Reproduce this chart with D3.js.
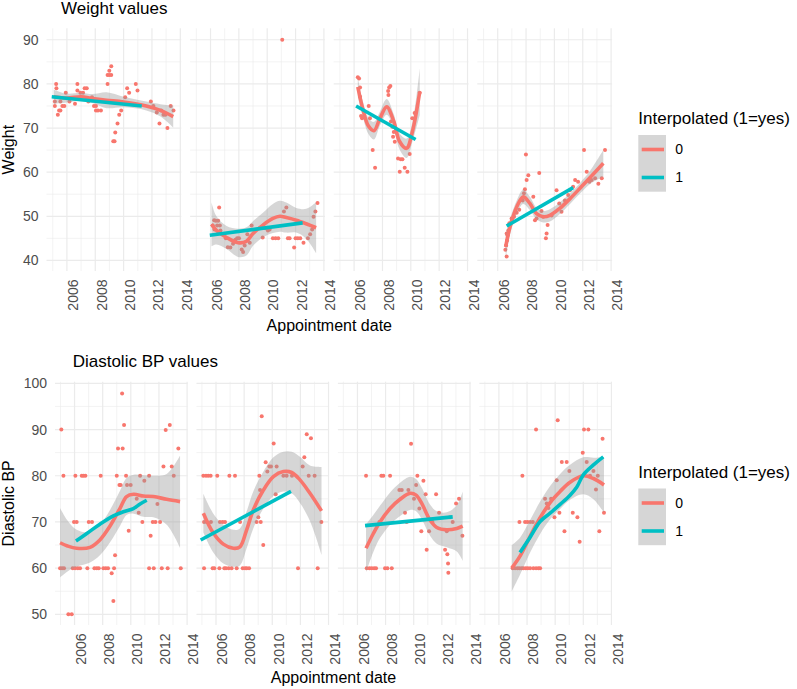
<!DOCTYPE html>
<html>
<head>
<meta charset="utf-8">
<script src="https://cdn.jsdelivr.net/npm/d3@7"></script>
<style>
  body { margin: 0; background: #fff; }
  text { font-family: "Liberation Sans", Arial, Helvetica, sans-serif; }
</style>
</head>
<body>
<svg width="797" height="689"></svg>
<script>
// ---- data ----
const xTicks = [2006, 2008, 2010, 2012, 2014];
const groups = ['0', '1'];

// Weight: points [year, weight] per panel
const wPts1 = [[2005.24,80],[2005.26,79],[2005.15,76],[2005.15,75],[2005.36,73],[2005.45,74],[2005.54,74],[2005.54,76],[2005.68,75],[2005.82,75],[2005.92,78],[2006.18,76],[2006.57,75.5],[2006.74,80],[2006.74,78.5],[2006.95,78],[2007.14,78],[2007.25,79],[2007.4,79],[2007.51,76],[2007.77,77],[2007.91,75],[2008.05,75],[2008.05,74],[2008.19,74],[2008.4,74],[2008.87,80],[2008.87,82],[2008.99,82],[2008.99,83],[2009.13,84],[2009.13,82],[2009.27,67],[2009.36,67],[2009.41,69],[2009.57,71],[2009.69,73],[2009.83,74],[2010.11,77],[2010.25,79],[2010.39,78],[2010.86,80],[2010.98,78.5],[2011.92,76],[2012.1,75],[2012.34,73.5],[2012.53,71],[2012.65,74],[2012.81,73],[2012.95,73],[2013.09,70],[2013.32,75],[2013.52,74]];
const wPts2 = [[2011.06,90],[2006.61,52],[2006.16,47.9],[2006.26,49.1],[2006.38,49],[2006.54,49],[2006.47,47.9],[2006.66,47.9],[2006.28,47],[2006.7,46.8],[2007.08,45],[2007.22,43],[2007.4,42.9],[2007.59,43.8],[2007.76,44.7],[2007.88,45],[2008.01,45],[2008.2,42.5],[2008.3,41.9],[2008.41,43.4],[2008.6,45.9],[2008.77,44],[2008.9,47.9],[2009.47,47.3],[2009.68,45.2],[2009.87,47.3],[2010.05,46.8],[2010.17,47],[2010.4,45],[2010.59,45],[2010.78,45],[2011.18,51.1],[2011.35,52],[2011.46,45],[2011.58,45],[2011.9,42.9],[2012.0,45],[2012.16,45],[2012.33,45],[2012.56,44],[2012.87,45],[2013.03,45.9],[2013.17,47],[2013.27,49.9],[2013.4,51.1],[2013.55,53]];
const wPts3 = [[2006.26,81.5],[2006.35,81.2],[2006.42,79.2],[2006.42,77.1],[2006.49,72.7],[2006.56,72.2],[2007.03,75],[2007.12,72.2],[2007.31,65],[2007.48,61],[2008.4,78.4],[2008.47,79.2],[2008.56,79.5],[2008.42,77.5],[2008.6,71.5],[2008.7,70.3],[2008.8,69.1],[2008.75,68],[2008.87,66.9],[2009.1,63.1],[2009.22,60.1],[2009.29,62.9],[2009.41,62.9],[2009.57,61],[2009.76,60.1],[2009.92,64.1],[2010.1,72.2],[2010.27,73.4],[2010.63,78]];
const wPts4 = [[2006.63,40.9],[2006.59,43.4],[2006.54,42.4],[2006.66,44.5],[2006.7,45.7],[2006.63,46.1],[2006.75,46.8],[2006.82,48.4],[2006.98,49.5],[2007.15,49.9],[2007.34,50.8],[2007.52,51.5],[2007.76,53.6],[2007.85,55.2],[2007.92,56.1],[2008.04,58.2],[2008.16,59.3],[2007.99,64],[2008.51,54.4],[2008.63,49.1],[2008.74,49.5],[2008.93,59.8],[2009.09,51.2],[2009.21,49.9],[2009.4,45],[2009.45,46.1],[2009.52,48],[2009.8,50.2],[2010.15,55.9],[2010.34,52.9],[2010.5,51],[2010.74,53.6],[2010.97,54.8],[2011.09,55.9],[2011.32,56.7],[2011.46,58.2],[2011.67,57.8],[2012.09,65],[2012.28,60.1],[2012.47,57.8],[2012.63,58.2],[2012.87,58.6],[2013.1,57.4],[2013.34,58.6],[2013.57,65]];

// Weight: smooth for group 0 [year, fit, half-width of band]
const wFit1 = [[2005.07,77.1,1.6],[2006,76.8,1.0],[2007,77.1,0.9],[2007.8,76.7,1.0],[2008.8,76.3,1.8],[2010,75.9,1.2],[2011.6,75.0,1.0],[2012.6,74.0,1.4],[2013.5,72.6,2.5]];
const wFit2 = [[2006.07,48.2,5.0],[2006.42,46.8,3.2],[2007.13,45.2,2.6],[2007.95,44.0,3.2],[2008.53,44.3,3.2],[2009.0,46.1,2.8],[2009.7,48.0,2.8],[2010.4,49.5,3.3],[2010.9,50.0,3.5],[2011.35,49.7,3.4],[2012.05,49.1,2.8],[2012.75,48.3,3.4],[2013.45,47.4,5.8]];
const wFit3 = [[2006.26,79.3,2.2],[2006.6,74.5,1.8],[2007.0,70.5,1.8],[2007.4,69.4,2.0],[2007.8,72.0,1.6],[2008.3,74.8,1.8],[2008.8,71.5,1.6],[2009.2,67.0,1.8],[2009.7,65.4,2.2],[2010.1,69.0,2.2],[2010.63,78.2,5.3]];
const wFit4 = [[2006.56,43.1,2.8],[2006.87,47.6,1.8],[2007.34,52.1,1.5],[2007.8,54.4,1.6],[2008.27,52.9,1.5],[2008.74,50.6,1.3],[2009.2,49.9,1.3],[2009.68,50.2,1.4],[2010.38,51.8,1.3],[2011.1,54.0,1.2],[2011.79,56.3,1.2],[2012.52,58.8,1.5],[2013.45,62.0,3.0]];
// Weight: fit for group 1 [year, fit]
const wLin1 = [[2004.93,77.1],[2011.28,75.0]];
const wLin2 = [[2005.95,45.7],[2012.5,48.5]];
const wLin3 = [[2006.14,75.0],[2010.34,67.4]];
const wLin4 = [[2006.63,47.8],[2011.32,56.5]];

// Diastolic BP: points [year, bp] per panel
const bpPts1 = [[2005.06,90],[2005.21,80],[2004.97,60],[2005.11,60],[2005.25,60],[2005.56,50],[2005.8,50],[2005.87,60],[2006.04,60],[2006.06,80],[2005.96,70],[2006.15,70],[2006.23,60],[2006.39,60],[2006.51,80],[2006.63,80],[2006.77,80],[2006.91,60],[2007.01,70],[2007.24,70],[2007.41,60],[2007.58,60],[2007.72,60],[2007.86,80],[2008.05,60],[2008.22,60],[2008.38,60],[2008.64,58.9],[2008.76,52.9],[2008.88,62.8],[2008.81,60],[2009.0,80],[2009.09,85.9],[2009.38,97.8],[2009.42,85.9],[2009.52,91],[2009.66,80],[2009.19,78],[2009.28,78],[2009.73,78],[2009.99,78],[2009.85,68.1],[2010.66,80],[2010.42,75],[2010.56,72],[2010.82,70],[2010.96,78.9],[2011.3,80],[2011.3,60],[2011.41,67],[2011.56,70],[2011.63,60],[2011.75,70],[2011.89,73.9],[2012.08,70],[2012.2,60],[2012.32,82],[2012.48,89.9],[2012.62,60],[2012.77,91],[2012.91,82],[2013.05,80],[2013.38,85.9],[2013.55,60]];
const bpPts2 = [[2005.1,80],[2005.29,80],[2005.45,80],[2005.62,80],[2006.09,80],[2006.95,80],[2007.35,80],[2005.15,70],[2005.34,70],[2005.64,70],[2006.28,70],[2006.47,70],[2006.64,70],[2007.71,70],[2005.15,60],[2005.76,60],[2005.88,60],[2006.24,60],[2006.59,60],[2006.71,60],[2006.9,60],[2007.11,60],[2007.47,60],[2007.9,60],[2008.06,60],[2008.18,60],[2008.35,60],[2008.89,70],[2009.01,71],[2009.18,70],[2009.08,80],[2009.13,76.9],[2009.25,92.9],[2009.36,65],[2009.53,82.9],[2009.65,80.9],[2009.79,82],[2009.91,82],[2010.1,87],[2010.24,76],[2010.31,82],[2010.79,80],[2011.02,80],[2011.4,80],[2011.83,60],[2012.16,82],[2012.28,84],[2012.45,89],[2012.59,80],[2012.75,88.1],[2013.01,80],[2013.23,60],[2013.49,70]];
const bpPts3 = [[2006.61,80],[2006.66,60],[2006.85,60],[2007.01,60],[2007.18,60],[2007.32,60],[2007.56,70],[2007.7,80],[2007.84,80],[2007.96,60],[2008.13,60],[2008.32,80],[2008.44,60],[2008.98,76.9],[2009.15,76.9],[2009.38,72],[2009.5,70],[2009.62,76.9],[2009.81,86.9],[2010.02,75],[2010.17,78],[2010.26,80],[2010.4,72.9],[2010.54,68],[2010.69,78.9],[2010.85,76],[2010.92,64],[2011.09,68],[2011.33,70],[2011.59,76],[2011.8,72],[2012.23,64],[2012.35,68],[2012.39,63],[2012.44,61],[2012.46,59],[2012.58,71],[2012.77,70],[2013.01,74],[2013.22,75],[2013.46,67]];
const bpPts4 = [[2006.98,60],[2007.15,60],[2007.32,60],[2007.46,60],[2007.62,60],[2007.74,60],[2007.91,60],[2008.05,60],[2008.22,60],[2008.45,60],[2008.64,60],[2008.81,60],[2008.93,60],[2007.46,70],[2007.67,80],[2007.86,70],[2008.03,70],[2008.22,70],[2008.41,70],[2008.64,90],[2009.28,75],[2009.4,74],[2009.52,73],[2009.71,75],[2009.95,71],[2010.11,79],[2010.18,92],[2010.3,72],[2010.47,83],[2010.82,83],[2010.66,68],[2011.01,81],[2011.25,72],[2011.58,71],[2011.74,65.7],[2011.96,85],[2012.05,90],[2012.36,90],[2012.24,83],[2012.48,80],[2012.72,81],[2012.9,77],[2013.03,80],[2013.14,68],[2013.37,88],[2013.47,72]];

const bpFit1 = [[2004.97,65.5,7.5],[2005.5,64.8,5.5],[2006.15,64.3,4.0],[2007.1,64.5,3.3],[2007.8,66.1,3.3],[2008.5,69.0,3.5],[2009.24,73.0,3.8],[2009.7,75.5,4.0],[2010.2,76.0,4.2],[2010.9,75.6,4.5],[2011.6,75.5,4.5],[2012.55,74.9,5.5],[2013.5,74.4,10.0]];
const bpFit2 = [[2005.1,71.9,4.2],[2005.81,67.6,4.2],[2006.52,65.2,4.2],[2007.23,64.3,4.0],[2007.7,64.6,4.0],[2008.18,68.3,4.0],[2008.65,72.6,4.0],[2009.37,76.9,4.0],[2010.08,79.8,4.2],[2010.79,80.9,4.3],[2011.38,80.7,4.5],[2011.97,79.1,5.0],[2012.68,76.2,6.0],[2013.5,72.4,9.5]];
const bpFit3 = [[2006.61,64.3,5.2],[2007.13,67.5,4.0],[2007.6,70.0,3.5],[2008.32,72.9,3.5],[2009.03,74.9,3.6],[2009.74,76.2,3.6],[2010.17,75.8,3.5],[2010.57,74.0,3.4],[2011.16,70.4,3.4],[2011.64,68.8,3.5],[2012.35,68.3,3.8],[2013.06,68.6,5.0],[2013.48,69.1,7.5]];
const bpFit4 = [[2006.91,60.0,5.0],[2007.5,62.6,4.0],[2008.22,66.9,3.5],[2008.93,70.9,3.5],[2009.64,74.2,3.6],[2010.35,76.6,3.8],[2011.06,78.6,3.8],[2012.0,80.0,4.0],[2012.72,79.4,4.5],[2013.47,78.0,6.0]];
const bpLin1 = [[2006.1,65.9],[2006.87,67.5],[2007.8,69.5],[2008.76,71.3],[2009.47,72.2],[2010.18,72.9],[2010.66,73.9],[2011.13,74.7]];
const bpLin2 = [[2004.91,66.1],[2011.33,76.6]];
const bpLin3 = [[2006.54,69.2],[2012.77,71.1]];
const bpLin4 = [[2007.5,63.4],[2008.22,66.7],[2008.93,70.1],[2009.64,71.9],[2010.35,73.8],[2011.06,75.8],[2011.53,77.5],[2012.0,80.2],[2012.7,82.3],[2013.42,84.1]];

// ---- drawing ----
const svg = d3.select('svg');
const colour = d3.scaleOrdinal().domain(groups).range(['#F8766D', '#00BFC4']);
const gridCol = '#ebebeb';
const axisCol = '#4d4d4d';

function drawPlot(o) {
  const x = d3.scaleLinear().domain(o.xDomain).range([0, o.panelW]);
  const y = d3.scaleLinear().domain(o.yDomain).range([o.bottom, o.top]);
  const yMajor = d3.range(o.yTicks[0], o.yTicks[1] + 1, 10);
  const yMinor = yMajor.slice(0, -1).map(v => v + 5);
  const xMinor = d3.range(2005, 2014, 2);

  const area = d3.area().curve(d3.curveCatmullRom)
    .x(d => x(d[0])).y0(d => y(d[1] - d[2])).y1(d => y(d[1] + d[2]));
  const line = d3.line().curve(d3.curveCatmullRom)
    .x(d => x(d[0])).y(d => y(d[1]));

  o.points.forEach((pts, i) => {
    const g = svg.append('g').attr('transform', `translate(${o.left + i * o.step},0)`);

    // grid
    g.selectAll('.hmin').data(yMinor).enter().append('line')
      .attr('x1', 0).attr('x2', o.panelW).attr('y1', d => y(d)).attr('y2', d => y(d))
      .attr('stroke', gridCol).attr('stroke-width', 0.6);
    g.selectAll('.vmin').data(xMinor).enter().append('line')
      .attr('y1', o.top).attr('y2', o.bottom).attr('x1', d => x(d)).attr('x2', d => x(d))
      .attr('stroke', gridCol).attr('stroke-width', 0.6);
    g.selectAll('.hmaj').data(yMajor).enter().append('line')
      .attr('x1', 0).attr('x2', o.panelW).attr('y1', d => y(d)).attr('y2', d => y(d))
      .attr('stroke', gridCol).attr('stroke-width', 1.2);
    g.selectAll('.vmaj').data(xTicks).enter().append('line')
      .attr('y1', o.top).attr('y2', o.bottom).attr('x1', d => x(d)).attr('x2', d => x(d))
      .attr('stroke', gridCol).attr('stroke-width', 1.2);

    // points
    g.selectAll('circle').data(pts).enter().append('circle')
      .attr('cx', d => x(d[0])).attr('cy', d => y(d[1])).attr('r', 2)
      .attr('fill', colour('0'));

    // smooth group 0 with band
    g.append('path').datum(o.fits[i]).attr('d', area)
      .attr('fill', '#999999').attr('fill-opacity', 0.4);
    g.append('path').datum(o.fits[i]).attr('d', line)
      .attr('fill', 'none').attr('stroke', colour('0')).attr('stroke-width', 3.6);
    // group 1
    g.append('path').datum(o.lins[i]).attr('d', line)
      .attr('fill', 'none').attr('stroke', colour('1')).attr('stroke-width', 3.6);

    // x axis
    const xa = g.append('g').attr('transform', `translate(0,${o.bottom})`)
      .call(d3.axisBottom(x).tickValues(xTicks).tickSize(0).tickFormat(d3.format('d')));
    xa.select('.domain').remove();
    xa.attr('font-family', null).attr('font-size', null);
    xa.selectAll('text')
      .attr('transform', 'rotate(-90)')
      .attr('text-anchor', 'end')
      .attr('x', -8.5).attr('y', 0).attr('dy', '0.77em')
      .attr('font-size', 14).attr('fill', axisCol);

    if (i === 0) {
      const ya = g.append('g')
        .call(d3.axisLeft(y).tickValues(yMajor).tickSize(0).tickPadding(8));
      ya.select('.domain').remove();
      ya.attr('font-family', null).attr('font-size', null);
      ya.selectAll('text').attr('font-size', 14).attr('fill', axisCol);
    }
  });

  // titles
  svg.append('text').attr('x', o.titleX).attr('y', o.titleY)
    .attr('font-size', 17).text(o.title);
  svg.append('text')
    .attr('transform', `translate(14,${(o.top + o.bottom) / 2}) rotate(-90)`)
    .attr('text-anchor', 'middle').attr('font-size', 16).text(o.yTitle);
  const plotRight = o.left + 3 * o.step + o.panelW;
  svg.append('text').attr('x', (o.left + plotRight) / 2).attr('y', o.xTitleY)
    .attr('text-anchor', 'middle').attr('font-size', 16).text('Appointment date');

  // legend
  const lg = svg.append('g').attr('transform', `translate(638.3,${o.legendY})`);
  lg.append('text').attr('x', 0).attr('y', 0).attr('font-size', 17)
    .text('Interpolated (1=yes)');
  lg.append('rect').attr('x', 0).attr('y', 11).attr('width', 27.7).attr('height', 56.7)
    .attr('fill', '#999999').attr('fill-opacity', 0.4);
  groups.forEach((k, j) => {
    const cy = 11 + 14.5 + j * 28;
    lg.append('line').attr('x1', 3.4).attr('x2', 25.7).attr('y1', cy).attr('y2', cy)
      .attr('stroke', colour(k)).attr('stroke-width', 3.6);
    lg.append('text').attr('x', 37).attr('y', cy).attr('dy', '0.35em')
      .attr('font-size', 14).text(k);
  });
}

drawPlot({
  title: 'Weight values', titleX: 61, titleY: 14,
  yTitle: 'Weight', xTitleY: 331,
  left: 46.5, step: 143.6, panelW: 134.8,
  top: 28.3, bottom: 271,
  xDomain: [2004.56, 2014.07], yDomain: [37.6, 92.6], yTicks: [40, 90],
  points: [wPts1, wPts2, wPts3, wPts4],
  fits: [wFit1, wFit2, wFit3, wFit4],
  lins: [wLin1, wLin2, wLin3, wLin4],
  legendY: 124
});

drawPlot({
  title: 'Diastolic BP values', titleX: 72.7, titleY: 367,
  yTitle: 'Diastolic BP', xTitleY: 683,
  left: 55, step: 141.45, panelW: 132.65,
  top: 381.7, bottom: 625,
  xDomain: [2004.61, 2014.04], yDomain: [47.7, 100.35], yTicks: [50, 100],
  points: [bpPts1, bpPts2, bpPts3, bpPts4],
  fits: [bpFit1, bpFit2, bpFit3, bpFit4],
  lins: [bpLin1, bpLin2, bpLin3, bpLin4],
  legendY: 477.5
});
</script>
</body>
</html>
